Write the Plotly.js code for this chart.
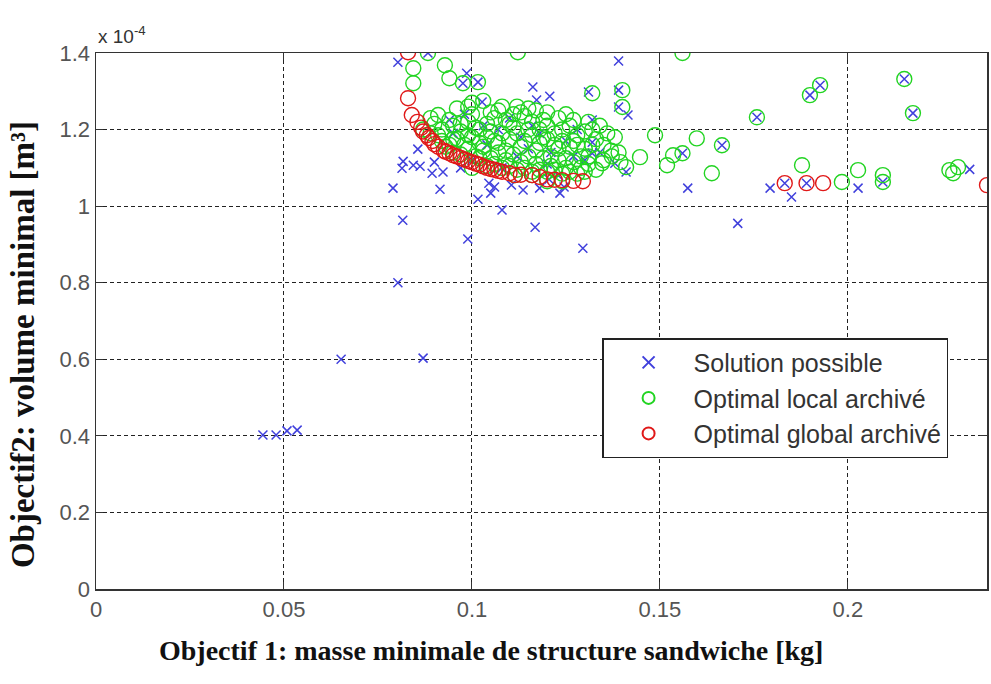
<!DOCTYPE html>
<html>
<head>
<meta charset="utf-8">
<script src="https://cdn.plot.ly/plotly-3.0.1.min.js"></script>
<style>html,body{margin:0;padding:0;background:#fff;}#chart{width:991px;height:684px;}</style>
</head>
<body>
<div id="chart"></div>
<script>
// Objective 1: mass [kg]; Objective 2: volume [x 1e-4 m^3]
var xTickVals = [0, 0.05, 0.1, 0.15, 0.2];
var xTickText = ['0', '0.05', '0.1', '0.15', '0.2'];
var yTickVals = [0, 0.2, 0.4, 0.6, 0.8, 1, 1.2, 1.4];
var yTickText = ['0', '0.2', '0.4', '0.6', '0.8', '1', '1.2', '1.4'];
var xTitle = '<b>Objectif 1: masse minimale de structure sandwiche [kg]</b>';
var yTitle = '<b>Objectif2: volume minimal [m³]</b>';
var exponentLabel = 'x 10<sup>-4</sup>';

var seriesNames = ['Solution possible', 'Optimal local archivé', 'Optimal global archivé'];

var possibleX = [0.0444,0.0479,0.0508,0.0535,0.0652,0.087,0.0803,0.0816,0.0989,0.1295,0.1168,0.079,0.0915,0.0814,0.0817,0.0844,0.0862,0.0894,0.0923,0.0856,0.1016,0.105,0.106,0.108,0.1136,0.118,0.1234,0.132,0.132,0.138,0.141,0.1162,0.1172,0.1207,0.139,0.131,0.139,0.139,0.1415,0.132,0.0883,0.0803,0.0976,0.1016,0.0986,0.1027,0.094,0.1758,0.1899,0.1926,0.215,0.2173,0.1574,0.1707,0.1793,0.185,0.2027,0.2324,0.189,0.1832,0.1665,0.156,0.2093,0.1,0.104,0.107,0.11,0.113,0.115,0.118,0.121,0.125,0.127,0.095,0.098,0.103,0.108,0.112,0.116,0.12,0.123,0.13,0.134,0.128,0.09,0.097,0.1045,0.1105,0.1245,0.1205];
var possibleY = [0.402,0.402,0.413,0.415,0.600,0.603,0.80,0.963,0.914,0.89,0.945,1.047,1.044,1.099,1.117,1.107,1.104,1.086,1.089,1.149,1.018,1.034,1.05,0.99,1.042,1.047,1.034,1.167,1.138,1.112,1.089,1.311,1.277,1.287,1.379,1.298,1.303,1.259,1.238,1.225,1.40,1.376,1.321,1.324,1.347,1.272,1.225,1.232,1.29,1.316,1.332,1.243,1.047,0.955,1.047,1.024,1.047,1.096,1.06,1.06,1.159,1.138,1.063,1.12,1.16,1.2,1.23,1.18,1.15,1.19,1.14,1.17,1.13,1.19,1.24,1.21,1.1,1.13,1.21,1.11,1.08,1.12,1.14,1.2,1.115,1.1,1.06,1.055,1.05,1.07];

var localX = [0.0844,0.0844,0.0883,0.0928,0.094,0.0976,0.1016,0.091,0.094,0.1122,0.156,0.132,0.14,0.14,0.1758,0.1899,0.1926,0.215,0.2173,
  0.1487,0.1598,0.1665,0.1535,0.156,0.1519,0.1638,0.1878,0.1984,0.2027,0.2093,0.2093,0.227,0.2293,0.228,0.1447,0.141,0.1346,0.1372,0.1395,
  0.087,0.089,0.09,0.092,0.095,0.097,0.099,0.1,0.102,0.104,0.106,0.107,0.109,0.111,0.112,0.114,0.116,0.118,0.12,0.122,0.124,0.126,0.128,0.13,0.132,0.134,0.136,0.138,
  0.092,0.094,0.096,0.098,0.1,0.102,0.104,0.106,0.108,0.11,0.112,0.114,0.116,0.118,0.12,0.122,0.124,0.126,0.128,0.13,0.132,
  0.095,0.097,0.099,0.101,0.103,0.105,0.107,0.109,0.111,0.113,0.115,0.117,0.119,0.121,0.123,0.125,0.127,0.129,0.131,0.133,
  0.104,0.108,0.112,0.116,0.12,0.124,0.128,0.1114,0.116,0.12,0.124,
  0.099,0.103,0.108,0.115,0.12,0.125,0.117,
  0.089,0.091,0.093,0.095,0.097,0.099,0.101,0.103,0.105,0.107,0.109,0.111,0.113,0.115,0.117,0.119,0.121,0.123,0.125,0.127,0.129,0.131,0.133,0.135,
  0.1,0.102,0.106,0.11,0.114,0.118,0.122,0.126,0.13,0.105,0.11,0.113,0.119,0.123,0.127,0.131,0.135,0.137,0.139,0.1,0.096];
var localY = [1.36,1.321,1.40,1.368,1.334,1.321,1.324,1.238,1.225,1.402,1.40,1.295,1.303,1.259,1.232,1.29,1.316,1.332,1.243,
  1.185,1.177,1.159,1.133,1.138,1.107,1.086,1.107,1.063,1.094,1.081,1.063,1.094,1.102,1.086,1.128,1.102,1.112,1.13,1.115,
  1.2,1.19,1.215,1.2,1.21,1.195,1.22,1.24,1.2,1.215,1.23,1.25,1.225,1.24,1.26,1.235,1.22,1.2,1.21,1.19,1.2,1.21,1.185,1.195,1.2,1.21,1.19,1.18,
  1.17,1.16,1.175,1.16,1.18,1.165,1.18,1.17,1.19,1.175,1.19,1.17,1.185,1.165,1.175,1.16,1.17,1.155,1.16,1.15,1.16,
  1.14,1.135,1.15,1.13,1.145,1.125,1.14,1.12,1.135,1.115,1.13,1.11,1.125,1.105,1.12,1.1,1.115,1.1,1.11,1.095,
  1.105,1.1,1.095,1.09,1.09,1.085,1.085,1.081,1.081,1.065,1.065,
  1.26,1.275,1.26,1.255,1.245,1.24,1.25,
  1.23,1.185,1.155,1.175,1.215,1.185,1.205,1.155,1.195,1.165,1.145,1.205,1.155,1.2,1.145,1.18,1.13,1.15,1.125,1.17,1.13,1.13,1.175,1.12,
  1.1,1.125,1.11,1.105,1.1,1.095,1.095,1.09,1.09,1.245,1.215,1.245,1.225,1.23,1.225,1.22,1.16,1.145,1.14,1.27,1.255];

var globalX = [0.083,0.083,0.084,0.0855,0.0865,0.087,0.088,0.0885,0.0895,0.09,0.091,0.0925,0.093,0.094,0.095,0.096,0.097,0.098,0.099,0.1,0.101,0.102,0.103,0.104,0.105,0.106,0.107,0.108,0.11,0.1114,0.113,0.116,0.118,0.12,0.122,0.124,0.127,0.1295,0.1832,0.189,0.1934,0.237];
var globalY = [1.402,1.282,1.238,1.22,1.205,1.195,1.185,1.178,1.17,1.162,1.155,1.145,1.142,1.138,1.133,1.13,1.126,1.122,1.118,1.115,1.111,1.108,1.104,1.1,1.097,1.095,1.092,1.09,1.086,1.081,1.082,1.081,1.076,1.07,1.069,1.068,1.066,1.065,1.06,1.06,1.06,1.055];

var traces = [
  {x: possibleX, y: possibleY, name: seriesNames[0], type: 'scatter', mode: 'markers', legendgroup: 'a',
   marker: {symbol: 'x-thin-open', size: 9, color: '#4040dc', line: {width: 1.5, color: '#4040dc'}}},
  {x: localX, y: localY, name: seriesNames[1], type: 'scatter', mode: 'markers', legendgroup: 'b',
   marker: {symbol: 'circle-open', size: 15, color: '#22d422', line: {width: 1.4, color: '#22d422'}}},
  {x: globalX, y: globalY, name: seriesNames[2], type: 'scatter', mode: 'markers', legendgroup: 'c',
   marker: {symbol: 'circle-open', size: 15, color: '#e01818', line: {width: 1.4, color: '#e01818'}}}
];

var tickFont = {family: 'Liberation Sans, Arial, sans-serif', size: 22, color: '#555'};
var serif = 'Liberation Serif, Times New Roman, serif';

var layout = {
  width: 991, height: 684,
  margin: {l: 96, r: 4, t: 53, b: 95},
  paper_bgcolor: '#fff', plot_bgcolor: '#fff',
  showlegend: true,
  xaxis: {
    range: [0, 0.237], tickvals: xTickVals, ticktext: xTickText,
    showline: true, mirror: 'ticks', linecolor: '#333', linewidth: 1.5,
    ticks: 'inside', ticklen: 7, tickcolor: '#333',
    showgrid: true, gridcolor: '#222', griddash: '4px,3px', gridwidth: 1,
    zeroline: false, tickfont: tickFont
  },
  yaxis: {
    range: [0, 1.4], tickvals: yTickVals, ticktext: yTickText,
    showline: true, mirror: 'ticks', linecolor: '#333', linewidth: 1.5,
    ticks: 'inside', ticklen: 7, tickcolor: '#333',
    showgrid: true, gridcolor: '#222', griddash: '4px,3px', gridwidth: 1,
    zeroline: false, tickfont: tickFont
  },
  legend: {
    x: 0.568, y: 0.468, xanchor: 'left', yanchor: 'top',
    bgcolor: '#fff', bordercolor: '#222', borderwidth: 1.5,
    font: {family: 'Liberation Sans, Arial, sans-serif', size: 25, color: '#333'},
    itemwidth: 80, tracegroupgap: 0, itemsizing: 'constant'
  },
  annotations: [
    {xref: 'paper', yref: 'paper', x: 0, y: 1, xanchor: 'left', yanchor: 'bottom', yshift: 4, showarrow: false,
     text: exponentLabel, font: {family: 'Liberation Sans, Arial, sans-serif', size: 19, color: '#333'}},
    {xref: 'paper', yref: 'paper', x: 0.443, y: 0, xanchor: 'center', yanchor: 'middle', yshift: -61, showarrow: false,
     text: xTitle, font: {family: serif, size: 28, color: '#111'}},
    {xref: 'paper', yref: 'paper', x: 0, y: 0.455, xanchor: 'center', yanchor: 'middle', xshift: -73, showarrow: false,
     textangle: -90, text: yTitle, font: {family: serif, size: 33, color: '#111'}}
  ]
};

Plotly.newPlot('chart', traces, layout, {displayModeBar: false, staticPlot: true});
</script>
</body>
</html>
